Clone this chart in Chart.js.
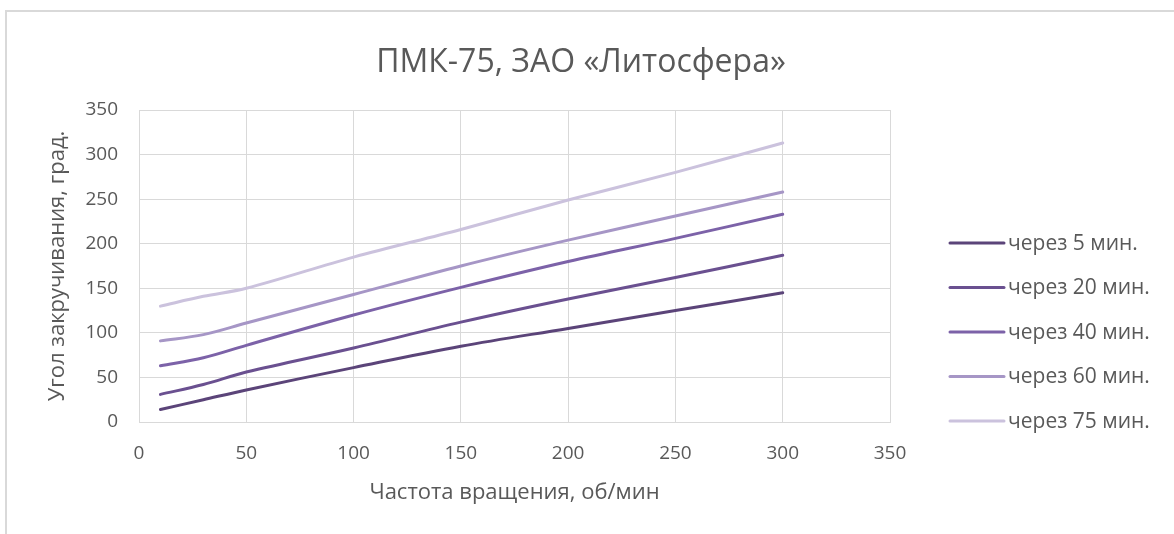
<!DOCTYPE html>
<html lang="ru">
<head>
<meta charset="utf-8">
<title>ПМК-75, ЗАО «Литосфера»</title>
<script src="https://cdn.jsdelivr.net/npm/chart.js@4.4.1/dist/chart.umd.min.js"></script>
<style>
  html, body { margin: 0; padding: 0; background: #fff; overflow: hidden; }
  #frame {
    position: absolute; left: 5px; top: 10px; width: 1200px; height: 560px;
    border: 2px solid #d9d9d9; box-sizing: border-box;
  }
  #wrap { position: absolute; left: 0; top: 0; width: 1174px; height: 534px; }
</style>
</head>
<body>
<div id="frame"></div>
<div id="wrap"><canvas id="chart"></canvas></div>
<script>
// Частота вращения, об/мин
const rpm = [10, 30, 50, 100, 150, 200, 250, 300];

// Угол закручивания, град.
const after5 = [14, 25, 36, 61, 85, 105, 125, 145];
const after20 = [31, 42, 56, 83, 112, 138, 162, 187];
const after40 = [63, 72, 86, 120, 151, 180, 206, 233];
const after60 = [91, 98, 111, 143, 175, 204, 231, 258];
const after75 = [130, 141, 150, 185, 216, 249, 280, 313];

const seriesNames = ['через 5 мин.', 'через 20 мин.', 'через 40 мин.', 'через 60 мин.', 'через 75 мин.'];
const seriesData = [after5, after20, after40, after60, after75];
const seriesColors = ['#5b4479', '#6a5090', '#7c62a8', '#a696c6', '#cbc2dd'];

const xTicks = [0, 50, 100, 150, 200, 250, 300, 350];
const yTicks = [0, 50, 100, 150, 200, 250, 300, 350];

const textColor = '#595959';
const gridColor = '#d9d9d9';
const fontFamily = '"Open Sans", "Noto Sans", sans-serif';

const datasets = seriesNames.map((name, i) => ({
  label: name,
  data: rpm.map((x, j) => ({ x: x, y: seriesData[i][j] })),
  borderColor: seriesColors[i],
  backgroundColor: seriesColors[i],
  borderWidth: 3,
  pointRadius: 0,
  tension: 0.35,
  borderCapStyle: 'round',
  fill: false
}));

// legend on the right, drawn by hand so the spacing is fixed
const sideLegend = {
  id: 'sideLegend',
  afterDraw(chart) {
    const ctx = chart.ctx;
    const x0 = 950, x1 = 1004, textX = 1008;
    const top = 243, step = 44.5;
    ctx.save();
    ctx.font = '21px ' + fontFamily;
    ctx.textBaseline = 'middle';
    ctx.textAlign = 'left';
    chart.data.datasets.forEach((ds, i) => {
      const y = top + i * step;
      ctx.strokeStyle = ds.borderColor;
      ctx.lineWidth = 3;
      ctx.lineCap = 'round';
      ctx.beginPath();
      ctx.moveTo(x0, y);
      ctx.lineTo(x1, y);
      ctx.stroke();
      ctx.fillStyle = textColor;
      ctx.fillText(ds.label, textX, y + 1);
    });
    ctx.restore();
  }
};

const ctx = document.getElementById('chart').getContext('2d');
const chart = new Chart(ctx, {
  type: 'line',
  data: { datasets: datasets },
  plugins: [sideLegend],
  options: {
    responsive: true,
    maintainAspectRatio: false,
    animation: false,
    layout: { padding: { left: 0, top: 0, bottom: 0, right: 12 } },
    plugins: {
      legend: { display: false },
      tooltip: { enabled: false },
      title: {
        display: true,
        text: 'ПМК-75, ЗАО «Литосфера»',
        color: textColor,
        font: { family: fontFamily, size: 32, weight: 'normal' },
        padding: { top: 44, bottom: 27.6 }
      }
    },
    scales: {
      x: {
        type: 'linear',
        min: 0,
        max: 350,
        afterBuildTicks: (axis) => { axis.ticks = xTicks.map(v => ({ value: v })); },
        afterFit: (axis) => { axis.height = 112; },
        grid: { color: gridColor, lineWidth: 1, drawTicks: false },
        border: { color: gridColor, width: 1 },
        ticks: { color: textColor, font: { family: fontFamily, size: 19 }, padding: 20.6, maxRotation: 0 },
        title: {
          display: true,
          text: 'Частота вращения, об/мин',
          color: textColor,
          font: { family: fontFamily, size: 22 },
          padding: { top: 0, bottom: 28 }
        }
      },
      y: {
        min: 0,
        max: 350,
        afterBuildTicks: (axis) => { axis.ticks = yTicks.map(v => ({ value: v })); },
        afterFit: (axis) => { axis.width = 139; },
        grid: { color: gridColor, lineWidth: 1, drawTicks: false },
        border: { color: gridColor, width: 1 },
        ticks: { color: textColor, font: { family: fontFamily, size: 19 }, padding: 21 },
        title: {
          display: true,
          text: 'Угол закручивания, град.',
          color: textColor,
          font: { family: fontFamily, size: 22 },
          padding: { top: 45, bottom: 0 }
        }
      },
      // empty axis on the right that reserves room for the legend
      legendSpace: {
        type: 'linear',
        position: 'right',
        display: true,
        afterFit: (axis) => { axis.width = 272; },
        grid: { display: false, drawOnChartArea: false },
        border: { display: false },
        ticks: { display: false }
      }
    }
  }
});
</script>
</body>
</html>
